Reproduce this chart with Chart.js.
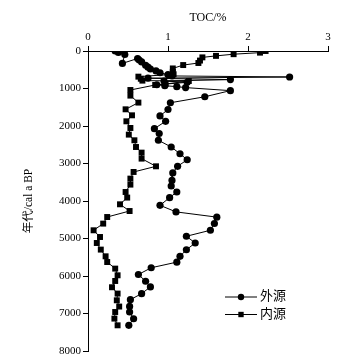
<!DOCTYPE html>
<html>
<head>
<meta charset="utf-8">
<script src="https://cdn.jsdelivr.net/npm/chart.js@4/dist/chart.umd.min.js"></script>
<style>
  html, body { margin: 0; padding: 0; background: #fff; }
  #wrap { width: 344px; height: 362px; }
</style>
</head>
<body>
<div id="wrap"><canvas id="tocChart"></canvas></div>
<script>
// 外源 (circles)
var extAge = [0, 40, 90, 330, 200, 240, 290, 380, 430, 480, 530, 580, 630, 665, 693, 725, 763, 800, 835, 900, 925, 950, 976, 1057, 1220, 1380, 1560, 1730, 1875, 2070, 2200, 2380, 2560, 2740, 2900, 3075, 3250, 3450, 3600, 3760, 3910, 4115, 4290, 4430, 4600, 4780, 4940, 5120, 5300, 5475, 5630, 5780, 5960, 6140, 6290, 6470, 6630, 6810, 6960, 7140, 7315];
var extToc = [0.34, 0.38, 0.46, 0.43, 0.62, 0.64, 0.67, 0.72, 0.75, 0.78, 0.85, 0.9, 1.0, 1.05, 2.52, 0.75, 1.78, 0.95, 1.24, 0.86, 0.96, 1.11, 1.22, 1.78, 1.46, 1.03, 1.0, 0.9, 0.97, 0.83, 0.89, 0.88, 1.04, 1.15, 1.24, 1.12, 1.06, 1.05, 1.04, 1.11, 1.02, 0.9, 1.10, 1.61, 1.58, 1.53, 1.23, 1.34, 1.23, 1.15, 1.11, 0.79, 0.63, 0.72, 0.78, 0.67, 0.53, 0.52, 0.52, 0.57, 0.51];

// 内源 (squares)
var intAge = [0, 44, 85, 130, 170, 255, 320, 375, 465, 560, 620, 684, 740, 790, 800, 880, 906, 1040, 1190, 1376, 1555, 1715, 1875, 2053, 2230, 2381, 2560, 2710, 2870, 3075, 3226, 3403, 3563, 3760, 3909, 4088, 4267, 4427, 4603, 4781, 4960, 5120, 5296, 5475, 5627, 5803, 5981, 6133, 6300, 6469, 6648, 6815, 6960, 7136, 7315];
var intToc = [2.22, 2.15, 1.82, 1.6, 1.43, 1.40, 1.38, 1.19, 1.06, 1.06, 1.07, 0.63, 0.66, 0.68, 1.26, 0.97, 0.84, 0.53, 0.53, 0.63, 0.47, 0.55, 0.48, 0.53, 0.51, 0.58, 0.6, 0.67, 0.67, 0.85, 0.57, 0.53, 0.53, 0.47, 0.49, 0.40, 0.52, 0.24, 0.19, 0.07, 0.15, 0.11, 0.16, 0.22, 0.24, 0.34, 0.37, 0.34, 0.30, 0.37, 0.36, 0.39, 0.34, 0.33, 0.37];

var xTicks = [0, 1, 2, 3];
var yTicks = [0, 1000, 2000, 3000, 4000, 5000, 6000, 7000, 8000];
var seriesNames = ['外源', '内源'];

function pts(xs, ys) {
  var out = [];
  for (var i = 0; i < xs.length; i++) out.push({x: xs[i], y: ys[i]});
  return out;
}

var serif = "'Liberation Serif', 'Times New Roman', 'Noto Sans CJK SC', serif";

// legend inside the plot: short line with the marker on it, then the name
var lineLegend = {
  id: 'lineLegend',
  afterDraw: function(chart) {
    var ctx = chart.ctx;
    var x0 = 225, y0 = 297, gap = 17.5;
    chart.data.datasets.forEach(function(ds, i) {
      var y = y0 + i * gap;
      ctx.save();
      ctx.strokeStyle = '#000';
      ctx.lineWidth = 1;
      ctx.beginPath();
      ctx.moveTo(x0, y);
      ctx.lineTo(x0 + 32, y);
      ctx.stroke();
      Chart.helpers.drawPoint(ctx, {pointStyle: ds.pointStyle, radius: ds.pointRadius - 0.4, borderWidth: 0}, x0 + 16, y);
      ctx.fillStyle = '#000';
      ctx.font = "13px " + serif;
      ctx.textBaseline = 'middle';
      ctx.fillText(ds.label, x0 + 35, y);
      ctx.restore();
    });
  }
};

new Chart(document.getElementById('tocChart'), {
  type: 'scatter',
  data: {
    datasets: [
      {
        label: seriesNames[0],
        data: pts(extToc, extAge),
        showLine: true,
        borderColor: '#000',
        backgroundColor: '#000',
        borderWidth: 1,
        pointStyle: 'circle',
        pointRadius: 3.6,
        pointBorderWidth: 0,
        tension: 0
      },
      {
        label: seriesNames[1],
        data: pts(intToc, intAge),
        showLine: true,
        borderColor: '#000',
        backgroundColor: '#000',
        borderWidth: 1,
        pointStyle: 'rect',
        pointRadius: 4.2,
        pointBorderWidth: 0,
        tension: 0
      }
    ]
  },
  options: {
    responsive: true,
    maintainAspectRatio: false,
    animation: false,
    layout: { padding: { left: 0, right: 16, top: 0, bottom: 11 } },
    plugins: {
      legend: { display: false },
      tooltip: { enabled: false }
    },
    scales: {
      x: {
        type: 'linear',
        position: 'top',
        min: 0,
        max: 3,
        afterBuildTicks: function(axis) { axis.ticks = xTicks.map(function(v) { return {value: v}; }); },
        afterFit: function(axis) { axis.height = 51; },
        ticks: { color: '#000', font: { family: serif, size: 11 }, padding: 2, callback: function(v) { return String(v); } },
        grid: { drawOnChartArea: false, drawTicks: true, tickLength: 5, color: '#000' },
        border: { color: '#000', width: 1 },
        title: { display: true, text: 'TOC/%', color: '#000', font: { family: serif, size: 12 }, padding: { top: 11, bottom: 0 } }
      },
      y: {
        type: 'linear',
        reverse: true,
        min: 0,
        max: 8000,
        afterBuildTicks: function(axis) { axis.ticks = yTicks.map(function(v) { return {value: v}; }); },
        afterFit: function(axis) { axis.width = 88; },
        ticks: { color: '#000', font: { family: serif, size: 11 }, padding: 2, callback: function(v) { return String(v); } },
        grid: { drawOnChartArea: false, drawTicks: true, tickLength: 5, color: '#000' },
        border: { color: '#000', width: 1 },
        title: { display: true, text: '年代/cal a BP', color: '#000', font: { family: serif, size: 11.5 }, padding: { top: 22, bottom: 0 } }
      }
    }
  },
  plugins: [lineLegend]
});
</script>
</body>
</html>
